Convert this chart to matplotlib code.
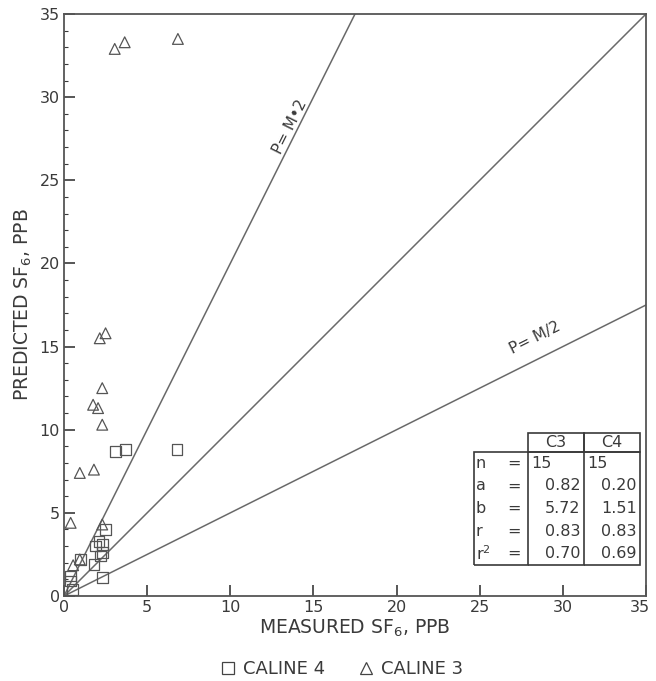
import numpy as np
import matplotlib.pyplot as plt
from matplotlib.table import Table
from matplotlib.lines import Line2D
from matplotlib.transforms import ScaledTranslation

# CALINE 3 (triangles) and CALINE 4 (squares): measured vs predicted SF6, ppb
c3_meas = [3.05, 3.65, 6.85, 2.15, 2.5, 2.3, 1.75, 2.05, 2.3, 0.95, 1.8, 0.4, 2.3, 0.95, 0.55]
c3_pred = [32.9, 33.3, 33.5, 15.5, 15.8, 12.5, 11.5, 11.3, 10.3, 7.4, 7.6, 4.4, 4.3, 2.2, 1.85]

c4_meas = [3.1, 3.7, 6.8, 2.5, 2.1, 1.9, 2.3, 2.3, 1.8, 2.3, 0.4, 0.4, 0.5, 2.2, 1.0]
c4_pred = [8.7, 8.8, 8.8, 4.0, 3.3, 3.0, 3.1, 2.6, 1.9, 1.1, 1.2, 0.9, 0.4, 2.4, 2.2]

# reference lines P = k * M
ref_slopes = [2.0, 1.0, 0.5]

# statistics table
stat_names = ["n", "a", "b", "r", "r$^2$"]
stat_c3 = ["15", "0.82", "5.72", "0.83", "0.70"]
stat_c4 = ["15", "0.20", "1.51", "0.83", "0.69"]

ink = "#3a3a3a"
plt.rcParams["font.family"] = "DejaVu Sans"
plt.rcParams["text.color"] = ink
plt.rcParams["axes.labelcolor"] = ink
plt.rcParams["xtick.color"] = ink
plt.rcParams["ytick.color"] = ink

fig = plt.figure(figsize=(6.56, 6.81), dpi=100)
ax = fig.add_axes([64 / 656, 1 - 596 / 681, 582 / 656, 582 / 681])
ax.set_xlim(0, 35)
ax.set_ylim(0, 35)

xx = np.array([0, 35.0])
for k in ref_slopes:
    ax.plot(xx, k * xx, color="#6a6a6a", lw=1.1, zorder=1)

ax.scatter(c4_meas, c4_pred, marker="s", s=60, facecolors="none",
           edgecolors="#555555", linewidths=0.9, zorder=3)
ax.scatter(c3_meas, c3_pred, marker="^", s=60, facecolors="none",
           edgecolors="#555555", linewidths=0.9, zorder=3)

# line labels, rotated along the lines
def line_angle(k):
    p0 = ax.transData.transform((0, 0))
    p1 = ax.transData.transform((1, k))
    return np.degrees(np.arctan2(p1[1] - p0[1], p1[0] - p0[0]))

ax.text(13.6, 28.2, "P= M\u20222", rotation=line_angle(2), ha="center",
        va="center", fontsize=11, rotation_mode="anchor")
ax.text(28.3, 15.5, "P= M/2", rotation=line_angle(0.5), ha="center",
        va="center", fontsize=11, rotation_mode="anchor")

ax.set_xticks(np.arange(0, 36, 5))
ax.set_yticks(np.arange(0, 36, 5))
ax.set_yticks(np.arange(0, 36, 1), minor=True)
ax.tick_params(axis="both", which="major", direction="in", length=8,
               width=1.2, labelsize=11.5, pad=3)
ax.tick_params(axis="y", which="minor", direction="in", length=3, width=0.8)
for sp in ax.spines.values():
    sp.set_color("#555555")
    sp.set_linewidth(1.3)

# nudge the last x label so it stays inside the figure
last = ax.get_xticklabels()[-1]
last.set_transform(last.get_transform() + ScaledTranslation(-6 / 100, 0, fig.dpi_scale_trans))

ax.set_xlabel("MEASURED SF$_6$, PPB", fontsize=13.5, labelpad=2)
ax.set_ylabel("PREDICTED SF$_6$, PPB", fontsize=13.5, labelpad=4)

# statistics table in the lower-right corner
tab = Table(ax, bbox=[(474 - 64) / 582, (596 - 565) / 582,
                      (640 - 474) / 582, (565 - 433) / 582])
col_w = [26, 28, 56, 56]
head_h, row_h = 19, 22.6
for j, txt in enumerate(["", "", "C3", "C4"]):
    c = tab.add_cell(0, j, col_w[j], head_h, text=txt, loc="center",
                     edgecolor=ink, facecolor="none")
    c.visible_edges = "closed" if j >= 2 else ""
nrow = len(stat_names)
for i, name in enumerate(stat_names):
    tb = ("T" if i == 0 else "") + ("B" if i == nrow - 1 else "")
    vals = [name, "=", stat_c3[i], stat_c4[i]]
    for j, txt in enumerate(vals):
        if j == 0:
            loc, edges = "left", "L" + tb
        elif j == 1:
            loc, edges = "center", "R" + tb
        else:
            loc = "left" if i == 0 else "right"
            edges = "R" + tb
        c = tab.add_cell(i + 1, j, col_w[j], row_h, text=txt, loc=loc,
                         edgecolor=ink, facecolor="none")
        c.visible_edges = edges
        c.PAD = 0.06
tab.auto_set_font_size(False)
tab.set_fontsize(11.5)
for cell in tab.get_celld().values():
    cell.set_linewidth(1.2)
ax.add_table(tab)

handles = [
    Line2D([], [], marker="s", ls="none", mfc="none", mec="#444444", ms=9, mew=0.9),
    Line2D([], [], marker="^", ls="none", mfc="none", mec="#444444", ms=9, mew=0.9),
]
fig.legend(handles, ["CALINE 4", "CALINE 3"], loc="center", ncol=2,
           bbox_to_anchor=(0.52, 1 - 669 / 681), frameon=False, fontsize=13,
           handletextpad=0.3, columnspacing=1.8, handlelength=1.0,
           borderpad=0.1)

fig.savefig("out.png", dpi=100)
